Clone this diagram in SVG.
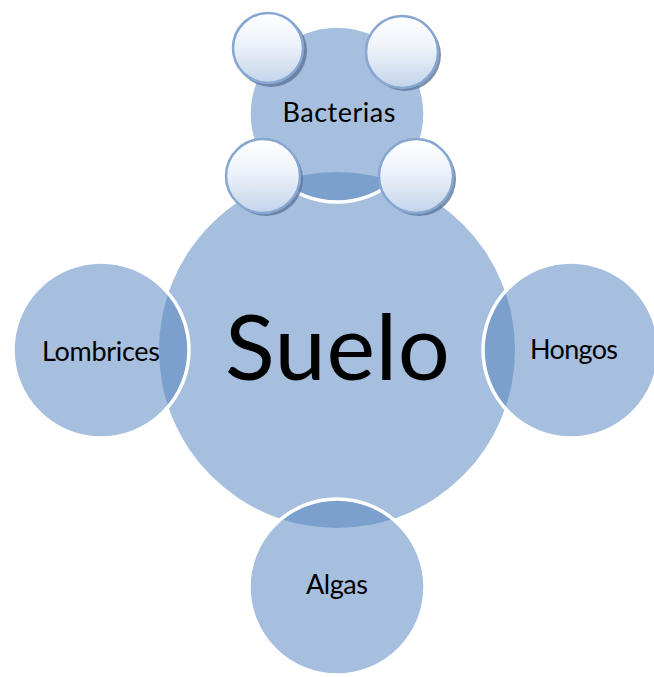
<svg xmlns="http://www.w3.org/2000/svg" width="654" height="677" viewBox="0 0 654 677">
<style>
  .base{fill:#A7BFDE}
  .dark{fill:#7BA0CD}
  .rim{fill:none;stroke:#FFFFFF;stroke-width:3.5}
  .lbl{font-family:Lato,"Liberation Sans",sans-serif;fill:#000000;text-anchor:middle}
  .small{font-size:27px}
  .big{font-size:92px}
  .bub{fill:url(#bubGrad);stroke:#86A7D1;stroke-width:2.5}
  .shd{fill:#5E7699;opacity:0.8}
</style>
<defs>
  <clipPath id="bigClip"><circle cx="337" cy="350" r="178"/></clipPath>
  <linearGradient id="bubGrad" x1="0" y1="0" x2="0" y2="1">
    <stop offset="0" stop-color="#FFFFFF"/>
    <stop offset="0.45" stop-color="#EDF2F9"/>
    <stop offset="1" stop-color="#C3D4EA"/>
  </linearGradient>
</defs>
<rect width="654" height="677" fill="#FFFFFF"/>
<g id="node-suelo">
  <circle class="base" cx="337" cy="350" r="178"/>
  <text class="lbl big" x="337.5" y="380" textLength="225">Suelo</text>
</g>
<g id="node-bacterias">
  <circle class="base" cx="337" cy="114" r="88"/>
  <circle class="dark" cx="337" cy="114" r="88" clip-path="url(#bigClip)"/>
  <circle class="rim" cx="337" cy="114" r="88"/>
  <text class="lbl small" x="339" y="122" textLength="113">Bacterias</text>
  <circle class="shd" cx="271" cy="51" r="36"/>
  <circle class="bub" cx="268" cy="48" r="35"/>
  <circle class="shd" cx="405" cy="55" r="36"/>
  <circle class="bub" cx="402" cy="52" r="36"/>
  <circle class="shd" cx="266" cy="179" r="37"/>
  <circle class="bub" cx="263" cy="176" r="37"/>
  <circle class="shd" cx="419" cy="179" r="37"/>
  <circle class="bub" cx="416" cy="176" r="37"/>
</g>
<g id="node-lombrices">
  <circle class="base" cx="101" cy="350" r="88"/>
  <circle class="dark" cx="101" cy="350" r="88" clip-path="url(#bigClip)"/>
  <circle class="rim" cx="101" cy="350" r="88"/>
  <text class="lbl small" x="101" y="361" textLength="118">Lombrices</text>
</g>
<g id="node-hongos">
  <circle class="base" cx="571" cy="350" r="88"/>
  <circle class="dark" cx="571" cy="350" r="88" clip-path="url(#bigClip)"/>
  <circle class="rim" cx="571" cy="350" r="88"/>
  <text class="lbl small" x="574" y="359" textLength="88">Hongos</text>
</g>
<g id="node-algas">
  <circle class="base" cx="337" cy="587" r="88"/>
  <circle class="dark" cx="337" cy="587" r="88" clip-path="url(#bigClip)"/>
  <circle class="rim" cx="337" cy="587" r="88"/>
  <text class="lbl small" x="337" y="594" textLength="62">Algas</text>
</g>
</svg>
